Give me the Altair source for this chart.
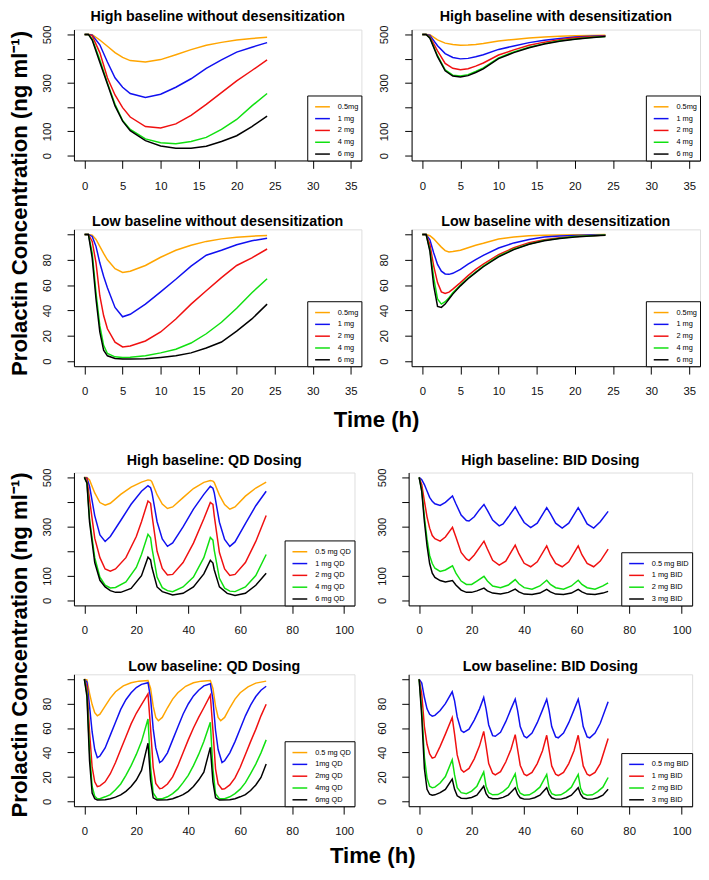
import altair as alt
import pandas as pd

FONT = "Liberation Sans"
ORANGE, BLUE, RED, GREEN, BLACK = "#FFA500", "#1010F0", "#F01010", "#10E010", "#000000"

# ---------------- Panel 1: High baseline without desensitization
T1 = [0, 0.5, 1, 2, 3, 4, 5, 6, 8, 10, 12, 14, 16, 18, 20, 22, 24]
P1_05 = [500, 500, 499, 477, 451, 425, 405, 392, 386, 396, 416, 437, 455, 467, 477, 483, 488]
P1_1 = [500, 500, 497, 457, 386, 321, 282, 256, 240, 253, 282, 317, 360, 395, 427, 447, 466]
P1_2 = [500, 500, 494, 425, 321, 250, 198, 159, 120, 114, 131, 166, 211, 260, 308, 351, 395]
P1_4 = [500, 500, 480, 395, 300, 212, 145, 108, 69, 53, 49, 58, 75, 108, 149, 205, 256]
P1_6 = [500, 500, 477, 385, 295, 205, 142, 103, 62, 40, 30, 30, 39, 58, 82, 120, 163]

# ---------------- Panel 2: High baseline with desensitization
T2 = [0, 0.5, 1, 2, 3, 4, 5, 6, 7, 8, 10, 12, 14, 16, 18, 20, 22, 24]
P2_05 = [500, 500, 499, 477, 464, 458, 455, 456, 458, 462, 473, 479, 485, 489, 492, 494, 495, 496]
P2_1 = [500, 500, 496, 453, 421, 405, 399, 401, 408, 416, 438, 452, 466, 476, 483, 489, 492, 494]
P2_2 = [500, 500, 490, 432, 380, 360, 354, 358, 369, 382, 415, 436, 455, 468, 478, 486, 490, 493]
P2_4 = [500, 500, 486, 412, 354, 332, 328, 334, 347, 362, 403, 428, 447, 462, 474, 481, 487, 491]
P2_6 = [500, 500, 484, 408, 350, 328, 324, 330, 343, 358, 400, 425, 445, 460, 472, 480, 486, 491]

# ---------------- Panel 3: Low baseline without desensitization
T3 = [0, 0.5, 1, 1.5, 2, 2.5, 3, 4, 5, 6, 8, 10, 12, 14, 16, 18, 20, 22, 24]
P3_05 = [100, 100, 99.5, 96, 90.6, 85, 80, 73, 70, 71, 75.5, 82, 87.5, 91.4, 94.5, 96.5, 97.7, 98.6, 99.2]
P3_1 = [100, 100, 98.4, 90.6, 77.6, 67, 58, 42.4, 35, 37, 45, 54.7, 64.6, 75, 83.6, 87.5, 91.9, 95, 97]
P3_2 = [100, 100, 94.5, 77.6, 51.6, 36, 25.5, 15, 11.2, 12, 15.9, 23, 33.3, 45, 55.5, 65.9, 75.5, 81.5, 88.5]
P3_4 = [100, 100, 85.4, 54, 28, 12.5, 6, 3.4, 2.9, 3.1, 4.2, 6.5, 9.4, 14.3, 21.6, 30.7, 41.7, 54, 65]
P3_6 = [100, 100, 81.5, 49, 23, 8.6, 4.2, 2.1, 1.6, 1.6, 1.8, 2.9, 4.2, 6.5, 10.4, 15.1, 23.7, 33.3, 45]

# ---------------- Panel 4: Low baseline with desensitization
T4 = [0, 0.5, 1, 1.5, 2, 2.5, 3, 3.5, 4, 5, 6, 7, 8, 10, 12, 14, 16, 18, 20, 22, 24]
P4_05 = [100, 100, 99, 96.5, 93.2, 90, 87.2, 86.2, 86.5, 87.5, 89.5, 91.5, 93, 96.4, 98, 99, 99.4, 99.6, 99.7, 99.8, 99.9]
P4_1 = [100, 100, 95.8, 85.4, 76.3, 71, 68.8, 68.5, 69.3, 72.4, 76.5, 80.2, 83.5, 89.3, 93.3, 96, 97.9, 98.8, 99.2, 99.5, 99.7]
P4_2 = [100, 100, 92, 75, 62, 54.7, 53.4, 54.5, 56.8, 62, 67.5, 72.4, 76.5, 84, 89.5, 93.5, 95.8, 97.3, 98.4, 99, 99.5]
P4_4 = [100, 100, 88, 66, 49, 45, 46.9, 50, 54, 60, 65.5, 70.3, 75, 82.8, 88.5, 92.5, 95.3, 97, 98.4, 99, 99.5]
P4_6 = [100, 100, 86.7, 59.4, 43.2, 42.4, 45, 49, 52.9, 59.4, 65, 69.8, 74.5, 82.3, 88, 92.2, 95, 96.8, 97.9, 98.8, 99.4]

# ---------------- Panel 5: High baseline QD dosing
P5_05_T = [0, 1, 2, 4, 6, 8, 10, 14, 18, 22, 24.5, 25.5, 26, 28, 30, 32, 34, 38, 42, 46, 48.5, 49.5, 50, 52, 54, 56, 58, 62, 66, 70]
P5_05_Y = [500, 500, 490, 437, 398, 387, 395, 431, 461, 481, 490, 488, 482, 430, 392, 374, 380, 418, 455, 480, 487, 485, 480, 428, 390, 371, 380, 424, 457, 481]
P5_1_T = [0, 1, 2, 4, 6, 8, 10, 14, 18, 22, 24.5, 25.5, 26, 28, 30, 32, 34, 38, 42, 46, 48.5, 49.5, 50, 52, 54, 56, 58, 62, 66, 70]
P5_1_Y = [500, 497, 464, 345, 266, 240, 260, 325, 391, 444, 466, 458, 440, 320, 250, 220, 234, 299, 371, 431, 464, 456, 438, 318, 248, 220, 238, 312, 385, 444]
P5_2_T = [0, 1, 2, 4, 6, 8, 10, 12, 16, 20, 22, 24.5, 25.5, 26, 28, 30, 32, 34, 38, 42, 46, 48.5, 49.5, 50, 52, 54, 56, 58, 62, 66, 70]
P5_2_Y = [500, 495, 411, 253, 174, 128, 119, 128, 174, 260, 320, 404, 395, 350, 200, 130, 104, 106, 154, 233, 332, 398, 390, 345, 195, 128, 102, 106, 154, 240, 345]
P5_4_T = [0, 1, 2, 4, 6, 8, 10, 12, 16, 20, 22, 24.5, 25.5, 26, 28, 30, 32, 34, 38, 42, 46, 48.5, 49.5, 50, 52, 54, 56, 58, 62, 66, 70]
P5_4_Y = [500, 480, 332, 174, 95, 62, 51, 53, 75, 134, 187, 269, 255, 215, 95, 52, 40, 36, 55, 95, 174, 256, 245, 205, 90, 50, 38, 36, 55, 101, 187]
P5_6_T = [0, 1, 2, 4, 6, 8, 10, 12, 14, 18, 22, 24.5, 25.5, 26, 28, 30, 34, 38, 42, 46, 48.5, 49.5, 50, 52, 55, 58, 62, 66, 70]
P5_6_Y = [500, 477, 319, 154, 82, 55, 40, 33, 33, 49, 101, 176, 165, 135, 55, 36, 22, 29, 55, 108, 163, 152, 125, 55, 29, 20, 29, 62, 111]

# ---------------- Panel 6: High baseline BID dosing
P6_05_T = [0, 1, 2, 3, 4, 5, 6, 8, 10, 12.7, 14, 16, 18, 19, 21, 23, 24.7, 26, 28, 30.5, 32, 34, 36.6, 38, 40, 42.5, 45, 48.6, 50, 52, 54.5, 57, 60.6, 62, 64, 66.5, 69, 72]
P6_05_Y = [500, 491, 471, 445, 419, 403, 393, 386, 399, 425, 393, 347, 325, 323, 340, 369, 390, 366, 327, 303, 311, 340, 380, 353, 317, 296, 314, 377, 353, 314, 294, 314, 377, 351, 311, 294, 320, 362]
P6_1_T = [0, 1, 2, 3, 4, 5, 6, 8, 10, 12.7, 14, 16, 18, 19, 21, 24.7, 26, 28, 30.5, 33, 36.6, 38, 40, 42.5, 45, 48.6, 50, 52, 54.5, 57, 60.6, 62, 64, 66.5, 69, 72]
P6_1_Y = [500, 471, 404, 340, 294, 264, 251, 241, 258, 297, 258, 195, 169, 162, 185, 241, 209, 163, 144, 160, 225, 190, 151, 137, 157, 222, 186, 151, 137, 157, 222, 186, 151, 137, 160, 209]
P6_2_T = [0, 1, 2, 3, 4, 5, 6, 8, 10, 12.7, 14, 16, 18, 20, 22, 24.7, 26, 28, 31, 34, 36.6, 38, 40, 43, 46, 48.6, 50, 52, 55, 58, 60.6, 62, 64, 67, 70, 72]
P6_2_Y = [500, 448, 340, 249, 183, 150, 131, 118, 124, 141, 111, 79, 65, 65, 79, 98, 79, 59, 52, 63, 85, 68, 52, 46, 59, 82, 65, 52, 46, 59, 82, 65, 52, 46, 59, 72]
P6_3_T = [0, 1, 2, 3, 4, 5, 6, 8, 10, 12.7, 14, 16, 18, 20, 22, 24.7, 26, 28, 31, 34, 36.6, 38, 40, 43, 46, 48.6, 50, 52, 55, 58, 60.6, 62, 64, 67, 70, 72]
P6_3_Y = [500, 442, 321, 223, 150, 111, 94, 81, 75, 81, 63, 42, 33, 33, 39, 50, 39, 30, 26, 33, 46, 35, 26, 24, 30, 45, 35, 26, 24, 30, 45, 35, 26, 24, 30, 37]

# ---------------- Panel 7: Low baseline QD dosing
P7_05_T = [0, 1, 2, 3, 4, 5, 6, 8, 10, 12, 15, 18, 21, 24.5, 25.5, 26.5, 27.5, 28.5, 30, 32, 34, 36, 39, 42, 45, 48.5, 49.5, 50.5, 51.5, 52.5, 54, 56, 58, 60, 63, 66, 70]
P7_05_Y = [100, 99.5, 88.4, 79.2, 72.6, 70, 71.3, 77.9, 84.5, 89.7, 94.5, 97.1, 98.4, 99, 92.4, 77.9, 68.7, 66, 68.7, 76.6, 83.7, 88.9, 94.2, 97.1, 98.4, 99, 92.4, 77.9, 68.7, 66, 68.7, 76.6, 83.7, 88.9, 93.7, 96.8, 98.4]
P7_1_T = [0, 1, 2, 3, 4, 5, 6, 8, 10, 12, 14, 16, 18, 20, 22, 24.5, 25.5, 26.5, 27.5, 29, 30, 32, 34, 36, 38, 40, 42, 44, 46, 48.5, 49.5, 50.5, 51.5, 53, 54, 56, 58, 60, 62, 64, 66, 68, 70]
P7_1_Y = [100, 97.6, 77.9, 56.8, 42.4, 35.8, 37.1, 43.7, 54.2, 64.7, 75.3, 83.2, 88.9, 93.2, 95.8, 97.1, 84.5, 59.5, 43.7, 31.8, 33.2, 39.7, 50.3, 60.8, 71.3, 79.7, 86.3, 91, 94.5, 96.3, 83.2, 58.2, 42.4, 31.8, 33.2, 39.7, 48.9, 59.5, 70, 78.7, 85.8, 91, 94.2]
P7_2_T = [0, 1, 2, 3, 4, 5, 6, 8, 10, 12, 14, 16, 18, 20, 22, 24.5, 25.5, 26.5, 27.5, 29, 30, 32, 34, 36, 38, 40, 42, 44, 46, 48.5, 49.5, 50.5, 51.5, 53, 54, 56, 58, 60, 62, 64, 66, 68, 70]
P7_2_Y = [100, 93.7, 56.8, 27.9, 16, 12.1, 12.6, 16, 22.6, 31.8, 42.4, 52.9, 63.4, 72.1, 79.2, 88, 59.5, 27.9, 14.7, 10.3, 10.8, 14.2, 20, 29.2, 39.7, 50.3, 60, 68.7, 76.6, 87, 58.2, 26.6, 14.2, 10, 10.3, 13.4, 19.2, 27.9, 38.4, 48.9, 58.9, 70, 79.5]
P7_4_T = [0, 1, 2, 3, 4, 5, 6, 8, 10, 12, 14, 16, 18, 20, 22, 24.5, 25.5, 26.5, 28, 30, 32, 34, 36, 38, 40, 42, 44, 46, 48.5, 49.5, 50.5, 52, 54, 56, 58, 60, 62, 64, 66, 68, 70]
P7_4_Y = [100, 88.4, 41, 12.1, 4.2, 2.1, 2.1, 3.7, 5.5, 9.5, 14.2, 21.3, 29.2, 38.4, 48.9, 67.4, 27.9, 6.8, 2.1, 2.1, 3.7, 6.3, 10, 15.3, 21.3, 29.2, 38.4, 48.9, 64.7, 26.6, 6.3, 2.1, 2.1, 3.7, 6.3, 10, 15.3, 22.6, 30.5, 39.7, 50.3]
P7_6_T = [0, 1, 2, 3, 4, 5, 8, 10, 12, 14, 16, 18, 20, 22, 24.5, 25.5, 26.5, 28, 32, 34, 36, 38, 40, 42, 44, 46, 48.5, 49.5, 50.5, 52, 56, 58, 60, 62, 64, 66, 68, 70]
P7_6_Y = [100, 85.8, 33.2, 6.8, 2.1, 1, 1.3, 2.1, 3.4, 5.3, 8.2, 12.1, 17.4, 25.3, 47.6, 17.4, 2.9, 1, 1.3, 2.1, 3.7, 5.5, 8.2, 12.1, 17.4, 23.9, 44.2, 16, 2.9, 1, 1.3, 2.1, 3.7, 5.5, 8.9, 13.4, 19.5, 30.5]

# ---------------- Panel 8: Low baseline BID dosing
P8_05_T = [0, 1, 2, 3, 4, 5, 6, 8, 10, 12.6, 13.5, 14.5, 16, 17, 19, 21, 23, 24.6, 25.5, 26.5, 28, 29, 31, 33, 35, 36.6, 37.5, 38.5, 40, 41, 43, 45, 47, 48.6, 49.5, 50.5, 52, 53, 55, 57, 59, 60.6, 61.5, 62.5, 64, 65, 67, 69, 72]
P8_05_Y = [100, 96.8, 85, 75.7, 71.2, 69.7, 70.4, 74.4, 80, 89.7, 82.3, 69.1, 58, 56.5, 59.1, 66.5, 75.7, 85, 75.7, 62.5, 53.8, 53.3, 56.5, 65.2, 75.7, 83.6, 74.4, 61.2, 53.3, 52, 55.9, 64.4, 74.9, 83.6, 74.4, 61.2, 52.8, 52, 55.9, 64.4, 74.9, 83.6, 74.4, 61.2, 52.8, 52, 55.9, 63.9, 81.5]
P8_1_T = P8_05_T
P8_1_Y = [100, 87.6, 61.2, 46.7, 38.8, 35.4, 36.1, 45, 55, 68.6, 55, 38, 26, 24, 26.9, 34.8, 45.4, 57.3, 45.4, 30.9, 23, 21.6, 24.3, 32.2, 42.7, 54.6, 42.7, 29.6, 22.2, 21.1, 23.7, 30.9, 41.4, 54.1, 42.2, 29, 22.2, 21.1, 23.7, 30.9, 41.4, 54.1, 42.2, 29, 22.2, 21.1, 23.7, 30.9, 51.5]
P8_2_T = [0, 1, 2, 3, 4, 5, 6, 8, 10, 12.6, 13.5, 14.5, 16, 18, 20, 22, 24.6, 25.5, 26.5, 28, 30, 32, 34, 36.6, 37.5, 38.5, 40, 42, 44, 46, 48.6, 49.5, 50.5, 52, 54, 56, 58, 60.6, 61.5, 62.5, 64, 66, 68, 70, 72]
P8_2_Y = [100, 74.4, 36.1, 19, 12.4, 11.1, 11.6, 15, 20.3, 34, 21.6, 11.1, 7.1, 6.3, 8.4, 12.4, 24, 12.4, 7.1, 5.3, 5.5, 7.9, 11.6, 22.5, 11.1, 6.6, 5, 5.3, 7.9, 11.6, 22, 10.6, 6.3, 5, 5.3, 7.9, 11.6, 22, 10.6, 6.3, 5, 5.3, 7.9, 11.6, 19.5]
P8_3_T = P8_2_T
P8_3_Y = [100, 69.1, 26.9, 9.8, 5.8, 5, 5.3, 7.1, 9.8, 18.2, 9.8, 4.5, 2.6, 2.4, 3.2, 5, 12.4, 6.3, 3.2, 2.1, 2.1, 3.2, 5.3, 11.1, 5.8, 2.9, 1.8, 1.8, 2.9, 5, 11.1, 5.8, 2.9, 1.8, 1.8, 2.9, 5, 11.1, 5.8, 2.9, 1.8, 1.8, 2.9, 5, 9.8]

LEG_SD = ["0.5mg", "1 mg", "2 mg", "4 mg", "6 mg"]
LEG_HQD = ["0.5 mg QD", "1 mg QD", "2 mg QD", "4 mg QD", "6 mg QD"]
LEG_LQD = ["0.5 mg QD", "1mg QD", "2mg QD", "4mg QD", "6mg QD"]
LEG_BID = ["0.5 mg BID", "1 mg BID", "2 mg BID", "3 mg BID"]
COL5 = [ORANGE, BLUE, RED, GREEN, BLACK]
COL4 = [BLUE, RED, GREEN, BLACK]

YLAB = "Prolactin Concentration (ng ml\u207B\u00B9)"


def make_df(labels, series):
    rows = []
    for order, (lab, (ts, ys)) in enumerate(zip(labels, series, strict=True)):
        for t, y in zip(ts, ys, strict=True):
            rows.append({"dose": lab, "t": t, "y": y, "k": order})
    return pd.DataFrame(rows)


def panel(title, labels, series, colors, xmax, xstep, high, width, height):
    df = make_df(labels, series)
    if high:
        ydom, yvals = [-20, 520], [0, 100, 200, 300, 400, 500]
        hide = "datum.value == 200 || datum.value == 400"
    else:
        ydom, yvals = [-4, 104], [0, 20, 40, 60, 80, 100]
        hide = "datum.value == 100"
    pad = 0.04 * xmax
    xaxis = alt.Axis(values=list(range(0, xmax + 1, xstep)), title=None, grid=False,
                     tickSize=8, labelPadding=12, labelFontSize=11.5, labelFont=FONT,
                     labelColor="#111", domainColor="black", tickColor="black",
                     labelFlush=False, labelOverlap=False)
    yaxis = alt.Axis(values=yvals, title=None, grid=False, tickSize=7, labelPadding=15,
                     labelFontSize=11.5, labelFont=FONT, labelColor="#111",
                     domainColor="black", tickColor="black", labelAngle=270,
                     labelAlign="center", labelBaseline="bottom",
                     labelExpr=f"({hide}) ? '' : datum.label",
                     labelFlush=False, labelOverlap=False)
    legend = alt.Legend(orient="bottom-right", offset=0, title=None, strokeColor="black",
                        fillColor="white", padding=3, labelFontSize=7.5, labelFont=FONT,
                        labelColor="black", symbolType="stroke", symbolStrokeWidth=1.5,
                        symbolSize=225, rowPadding=-6.5, labelOffset=7, symbolOffset=4,
                        cornerRadius=0)
    return alt.Chart(df).mark_line(strokeWidth=1.5).encode(
        x=alt.X("t:Q", scale=alt.Scale(domain=[-pad, xmax + pad], nice=False, zero=False), axis=xaxis),
        y=alt.Y("y:Q", scale=alt.Scale(domain=ydom, nice=False, zero=False), axis=yaxis),
        color=alt.Color("dose:N", scale=alt.Scale(domain=labels, range=colors), legend=legend),
        order=alt.Order("t:Q"),
    ).properties(
        width=width, height=height,
        title=alt.TitleParams(title, fontSize=14.5, fontWeight="bold", font=FONT,
                              anchor="middle", offset=0, color="black"),
    )


def ind(c):
    return c.resolve_scale(x="independent", y="independent", color="independent").resolve_legend(color="independent")


p1 = panel("High baseline without desensitization", LEG_SD,
           [(T1, P1_05), (T1, P1_1), (T1, P1_2), (T1, P1_4), (T1, P1_6)], COL5, 35, 5, True, 292, 133)
p2 = panel("High baseline with desensitization", LEG_SD,
           [(T2, P2_05), (T2, P2_1), (T2, P2_2), (T2, P2_4), (T2, P2_6)], COL5, 35, 5, True, 293, 133)
p3 = panel("Low baseline without desensitization", LEG_SD,
           [(T3, P3_05), (T3, P3_1), (T3, P3_2), (T3, P3_4), (T3, P3_6)], COL5, 35, 5, False, 292, 139)
p4 = panel("Low baseline with desensitization", LEG_SD,
           [(T4, P4_05), (T4, P4_1), (T4, P4_2), (T4, P4_4), (T4, P4_6)], COL5, 35, 5, False, 293, 139)
p5 = panel("High baseline: QD Dosing", LEG_HQD,
           [(P5_05_T, P5_05_Y), (P5_1_T, P5_1_Y), (P5_2_T, P5_2_Y), (P5_4_T, P5_4_Y), (P5_6_T, P5_6_Y)],
           COL5, 100, 20, True, 285, 135)
p6 = panel("High baseline: BID Dosing", LEG_BID,
           [(P6_05_T, P6_05_Y), (P6_1_T, P6_1_Y), (P6_2_T, P6_2_Y), (P6_3_T, P6_3_Y)],
           COL4, 100, 20, True, 288, 135)
p7 = panel("Low baseline: QD Dosing", LEG_LQD,
           [(P7_05_T, P7_05_Y), (P7_1_T, P7_1_Y), (P7_2_T, P7_2_Y), (P7_4_T, P7_4_Y), (P7_6_T, P7_6_Y)],
           COL5, 100, 20, False, 285, 134)
p8 = panel("Low baseline: BID Dosing", LEG_BID,
           [(P8_05_T, P8_05_Y), (P8_1_T, P8_1_Y), (P8_2_T, P8_2_Y), (P8_3_T, P8_3_Y)],
           COL4, 100, 20, False, 288, 134)

YTITLE = dict(orient="left", fontSize=22.5, fontWeight="bold", font=FONT, anchor="middle",
              offset=10, color="black")


def xtitle(offset):
    return alt.TitleParams("Time (h)", orient="bottom", fontSize=22.5, fontWeight="bold",
                           font=FONT, anchor="middle", offset=offset, color="black", dx=22)


def section(a, b, c, d, hspace, vspace, xoff):
    r1 = ind(alt.hconcat(a, b, spacing=hspace))
    r2 = ind(alt.hconcat(c, d, spacing=hspace))
    grid = ind(alt.vconcat(r1, r2, spacing=vspace, title=alt.TitleParams(YLAB, **YTITLE)))
    return ind(alt.vconcat(grid, title=xtitle(xoff)))


secA = section(p1, p2, p3, p4, 16, 22, 12)
secB = section(p5, p6, p7, p8, 20, 22, 8)

chart = ind(alt.vconcat(secA, secB, spacing=20)).properties(
    padding={"top": -6, "left": 0, "right": 0, "bottom": 0}
).configure_view(stroke="black", strokeWidth=1).configure(background="white")

chart.save("out.html", embed_options={"renderer": "svg", "actions": False})
